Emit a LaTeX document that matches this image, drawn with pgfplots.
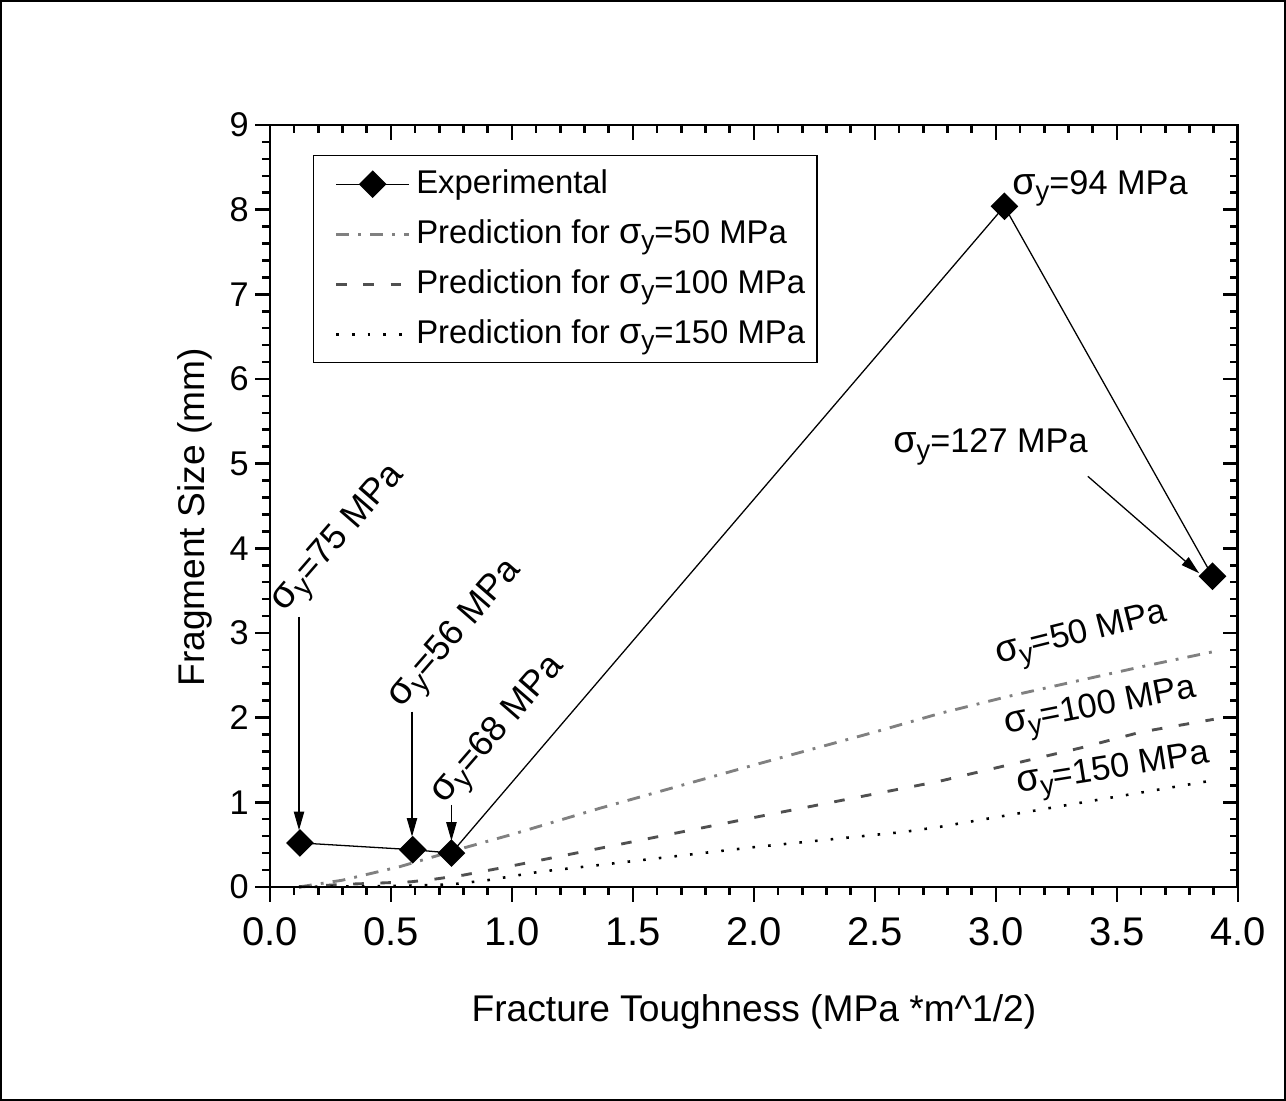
\documentclass[border=0pt]{standalone}
\usepackage{fontspec}
\setmainfont{Liberation Sans}
\usepackage{graphicx}
\usepackage{pgfplots}
\pgfplotsset{compat=1.18}
\usetikzlibrary{arrows.meta}
\definecolor{gA}{RGB}{128,128,128}
\definecolor{gB}{RGB}{80,80,80}
\newcommand{\sy}{\scalebox{1.1}{σ}\raisebox{-0.18em}{\scalebox{0.8}{y}}}

\begin{document}
\begin{tikzpicture}
\path[use as bounding box] (-94.47pt,-74.88pt) rectangle (355.53pt,310.36pt);
\draw[line width=0.7pt] (-94.12pt,-74.53pt) rectangle (355.18pt,310.01pt);
\begin{axis}[
  at={(0,0)}, anchor=south west,
  scale only axis, width=338.7pt, height=266.62pt,
  xmin=0, xmax=4, ymin=0, ymax=9,
  xtick={0,0.5,...,4}, ytick={0,1,...,9},
  minor x tick num=4, minor y tick num=4,
  xtick pos=left, ytick pos=left,
  tick align=outside,
  major tick length=5.2pt, minor tick length=2.8pt,
  every tick/.style={black, line width=0.9pt},
  axis line style={line width=1pt},
  /pgf/number format/assume math mode=true,
  xticklabel style={font=\fontsize{14}{16}\selectfont, yshift=-2pt, /pgf/number format/.cd, fixed, fixed zerofill, precision=1, /tikz/.cd},
  yticklabels={0,1,2,3,4,5,6,7,8,9},
  yticklabel style={font=\fontsize{12}{14}\selectfont, inner xsep=2pt},
  xlabel={Fracture Toughness (MPa *m\textasciicircum 1/2)},
  ylabel={Fragment Size (mm)},
  every axis x label/.style={at={(axis description cs:0.5,-0.164)}, anchor=center, font=\fontsize{13}{15}\selectfont},
  every axis y label/.style={at={(axis description cs:-0.0775,0.485)}, rotate=90, anchor=center, font=\fontsize{13}{15}\selectfont},
  legend style={at={(rel axis cs:0.0444,0.9606)}, anchor=north west, draw=black, line width=0.5pt,
    inner xsep=2.2pt, inner ysep=2.7pt, row sep=3pt, font=\fontsize{11.5}{13}\selectfont,
    nodes={inner sep=2pt, text height=8.5pt, text depth=2pt}},
  legend cell align=left,
  legend image code/.code={\path (-5.2pt,0pt) (25.5pt,0pt);
    \draw[mark repeat=2,mark phase=2,#1] plot coordinates {(0pt,0pt) (12.75pt,0pt) (25.5pt,0pt)};},
  clip=false,
]
\addplot[black, line width=0.45pt, mark=square*, mark size=3.2pt, mark options={rotate=45, solid, fill=black}]
  coordinates {(0.124,0.52) (0.59,0.44) (0.75,0.40) (3.035,8.04) (3.895,3.67)};
\addlegendentry{Experimental}
\addplot[gA, line width=1pt, dash pattern=on 4.5pt off 3.2pt on 1pt off 3.2pt]
  coordinates {(0.12,0.0) (0.3,0.08) (0.537,0.24) (0.8,0.46) (1.0,0.62) (1.364,0.93) (2.0,1.44) (2.5,1.83) (2.769,2.05) (3.05,2.25) (3.347,2.44) (3.6,2.6) (3.9,2.78)};
\addlegendentry{Prediction for \sy=50 MPa}
\addplot[gB, line width=1pt, dash pattern=on 3.7pt off 5.8pt]
  coordinates {(0.12,0.0) (0.3,0.03) (0.58,0.06) (0.675,0.09) (0.8,0.14) (1.02,0.26) (1.364,0.457) (2.0,0.82) (2.769,1.25) (3.05,1.44) (3.347,1.64) (3.6,1.83) (3.9,1.98)};
\addlegendentry{Prediction for \sy=100 MPa}
\addplot[black, line width=0.9pt, dash pattern=on 0.9pt off 4.6pt]
  coordinates {(0.12,0.0) (0.5,0.01) (0.75,0.03) (0.9,0.08) (1.116,0.18) (1.364,0.26) (2.0,0.47) (2.62,0.65) (2.769,0.71) (3.3,0.97) (3.9,1.26)};
\addlegendentry{Prediction for \sy=150 MPa}

\draw[line width=0.45pt, -{Triangle[length=6.5pt,width=3.6pt]}] (axis cs:0.12,3.19) -- (axis cs:0.12,0.67);
\draw[line width=0.45pt, -{Triangle[length=6.5pt,width=3.6pt]}] (axis cs:0.587,2.07) -- (axis cs:0.587,0.594);
\draw[line width=0.45pt, -{Triangle[length=6.5pt,width=3.6pt]}] (axis cs:0.75,0.97) -- (axis cs:0.75,0.545);
\draw[line width=0.45pt, -{Triangle[length=6.5pt,width=3.6pt]}] (axis cs:3.38,4.85) -- (axis cs:3.84,3.705);

\node[rotate=49, inner sep=0pt, font=\fontsize{12.5}{14}\selectfont] at (axis cs:0.29,4.10) {\sy=75 MPa};
\node[rotate=49, inner sep=0pt, font=\fontsize{12.5}{14}\selectfont] at (axis cs:0.772,2.97) {\sy=56 MPa};
\node[rotate=49, inner sep=0pt, font=\fontsize{12.5}{14}\selectfont] at (axis cs:0.95,1.834) {\sy=68 MPa};
\node[anchor=base west, inner sep=0pt, font=\fontsize{12}{14}\selectfont] at (axis cs:3.066,8.185) {\sy=94 MPa};
\node[anchor=base west, inner sep=0pt, font=\fontsize{12}{14}\selectfont] at (axis cs:2.574,5.126) {\sy=127 MPa};
\node[rotate=14, inner sep=0pt, font=\fontsize{12}{14}\selectfont] at (axis cs:3.354,2.956) {\sy=50 MPa};
\node[rotate=11, inner sep=0pt, font=\fontsize{12}{14}\selectfont] at (axis cs:3.432,2.10) {\sy=100 MPa};
\node[rotate=9, inner sep=0pt, font=\fontsize{12}{14}\selectfont] at (axis cs:3.485,1.36) {\sy=150 MPa};
\end{axis}
\begin{axis}[
  at={(0,0)}, anchor=south west,
  scale only axis, width=338.7pt, height=266.62pt,
  xmin=0, xmax=4, ymin=0, ymax=9,
  xtick={0,0.5,...,4}, ytick={0,1,...,9},
  minor x tick num=4, minor y tick num=4,
  xtick pos=right, ytick pos=right,
  tick align=inside,
  major tick length=5.2pt, minor tick length=2.8pt,
  every tick/.style={black, line width=0.9pt},
  axis line style={line width=1pt},
  xticklabels={}, yticklabels={},
]
\end{axis}
\end{tikzpicture}
\end{document}
